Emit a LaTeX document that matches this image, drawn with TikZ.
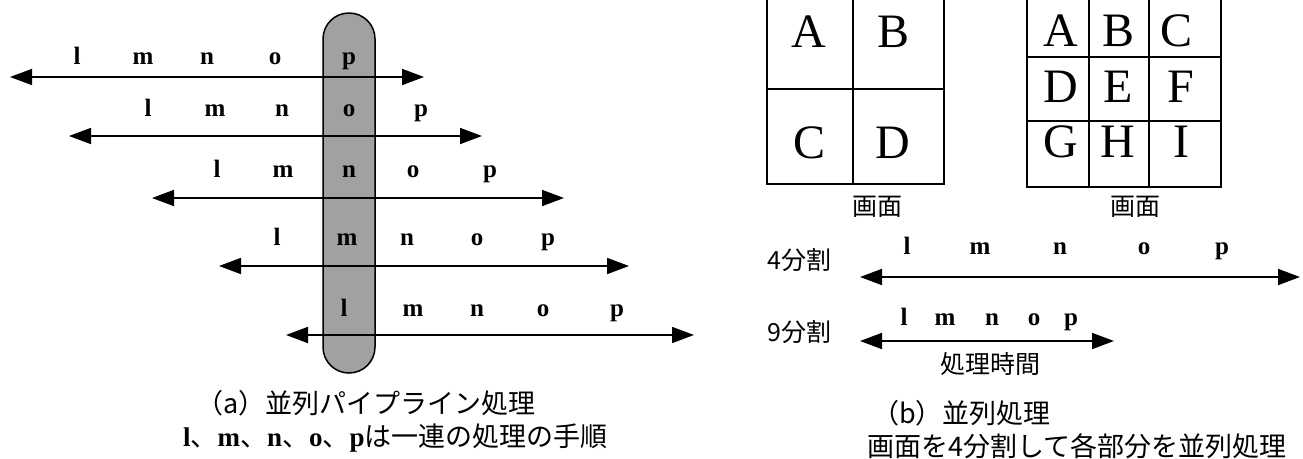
\documentclass[tikz,border=0pt]{standalone}
\usepackage{fontspec}
\setmainfont{Liberation Serif}
\newfontfamily\jp{Noto Sans CJK JP}
\usetikzlibrary{arrows.meta}
\newcommand\Lt[1]{{\rmfamily\bfseries #1}}
\begin{document}
\begin{tikzpicture}[x=1pt,y=-1pt,
  dbl/.style={line width=1.8pt, {Triangle[length=22pt,width=16pt]}-{Triangle[length=22pt,width=16pt]}},
  letr/.style={font=\bfseries\fontsize{25}{25}\selectfont, inner sep=0pt, anchor=base},
  big/.style={font=\fontsize{48}{48}\selectfont, inner sep=0pt, anchor=base},
  jpl/.style={font=\jp\fontsize{25}{25}\selectfont, inner sep=0pt},
  captext/.style={font=\jp\fontsize{27}{27}\selectfont, inner sep=0pt, anchor=west},
  gridline/.style={line width=1.6pt},
  pillbox/.style={fill=black!37, draw=black, line width=1.5pt, rounded corners=25.9pt,
    minimum width=52pt, minimum height=360pt, inner sep=0pt}
]
\clip (0,0) rectangle (1303,458);
\fill[white] (0,0) rectangle (1303,458);

% ---------- (a) pipeline ----------
\node[pillbox] (pill) at (349,193) {};

\foreach \r/\y/\ty/\xl/\xr/\a/\b/\c/\d/\e in {
  1/77/58/10/424/77/143/207/275/349,
  2/136/110/69/482/148/215/282/349/421,
  3/198/171/152/564/217/283/349/413/490,
  4/266/239/219/629/277/347/407/477/548,
  5/335/310/286/694/344/413/477/543/617}{
  \coordinate (L\r) at (\xl,\y);
  \coordinate (R\r) at (\xr,\y);
  \draw[dbl] (L\r) -- (R\r);
  \node[letr] (l\r) at (\a,\ty+6) {l};
  \node[letr] (m\r) at (\b,\ty+6) {m};
  \node[letr] (n\r) at (\c,\ty+6) {n};
  \node[letr] (o\r) at (\d,\ty+6) {o};
  \node[letr] (p\r) at (\e,\ty+6) {p};
}

\node[captext] (capa1) at (196,403) {（a）並列パイプライン処理};
\node[captext] (capa2) at (183,438) {\Lt{l}、\Lt{m}、\Lt{n}、\Lt{o}、\Lt{p}は一連の処理の手順};

% ---------- (b) grids ----------
\draw[gridline] (767,-10) rectangle (944,184);
\draw[gridline] (853,-10) -- (853,184);
\draw[gridline] (767,89) -- (944,89);
\node[big] (gA) at (809,47) {A};
\node[big] (gB) at (893,47) {B};
\node[big] (gC) at (809,158) {C};
\node[big] (gD) at (893,158) {D};
\node[jpl] (scr1) at (877,207) {画面};

\draw[gridline] (1027,-10) rectangle (1221,187);
\draw[gridline] (1089,-10) -- (1089,187);
\draw[gridline] (1149,-10) -- (1149,187);
\draw[gridline] (1027,57) -- (1221,57);
\draw[gridline] (1027,121) -- (1221,121);
\node[big] (hA) at (1061,46) {A};
\node[big] (hB) at (1118,46) {B};
\node[big] (hC) at (1176,46) {C};
\node[big] (hD) at (1061,102) {D};
\node[big] (hE) at (1118,102) {E};
\node[big] (hF) at (1181,102) {F};
\node[big] (hG) at (1061,157) {G};
\node[big] (hH) at (1118,157) {H};
\node[big] (hI) at (1181,157) {I};
\node[jpl] (scr2) at (1135,207) {画面};

% ---------- (b) timing ----------
\node[jpl, anchor=west] (div4) at (767,260) {4分割};
\coordinate (A4l) at (860,277);
\coordinate (A4r) at (1300,277);
\draw[dbl] (A4l) -- (A4r);
\node[letr] (q1) at (907,254) {l};
\node[letr] (q2) at (980,254) {m};
\node[letr] (q3) at (1060,254) {n};
\node[letr] (q4) at (1144,254) {o};
\node[letr] (q5) at (1222,254) {p};

\node[jpl, anchor=west] (div9) at (767,332) {9分割};
\coordinate (A9l) at (860,341);
\coordinate (A9r) at (1114,341);
\draw[dbl] (A9l) -- (A9r);
\node[letr] (s1) at (904,325) {l};
\node[letr] (s2) at (945,325) {m};
\node[letr] (s3) at (992,325) {n};
\node[letr] (s4) at (1034,325) {o};
\node[letr] (s5) at (1071,325) {p};
\node[jpl] (ptime) at (990,364) {処理時間};

\node[captext] (capb1) at (872,413) {（b）並列処理};
\node[captext] (capb2) at (867,446) {画面を4分割して各部分を並列処理};
\end{tikzpicture}
\end{document}
